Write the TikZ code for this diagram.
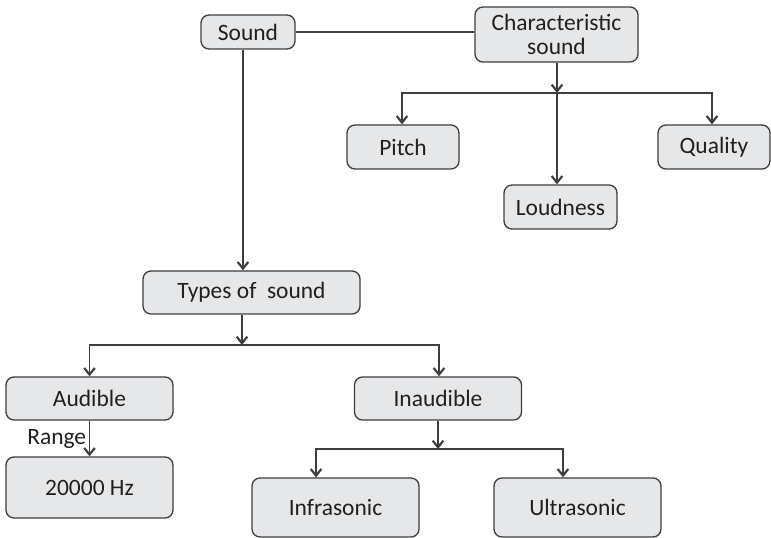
\documentclass[tikz,border=0pt]{standalone}
\usepackage{fontspec}
\setmainfont{Carlito}
\usepackage{tikz}
\usetikzlibrary{arrows.meta}
\definecolor{boxfill}{RGB}{230,231,232}
\definecolor{boxline}{RGB}{62,62,64}
\definecolor{ink}{RGB}{35,31,32}

\begin{document}
\begin{tikzpicture}[x=0.75pt, y=-0.75pt,
    font=\fontsize{17.6}{18.5}\selectfont, text=ink,
    topic/.style={draw=boxline, fill=boxfill, line width=1pt, rounded corners=6pt,
      inner sep=0pt, align=center, minimum height=33pt},
    arr/.style={draw=boxline, line width=1pt, -{Straight Barb[length=5pt,width=8pt,line width=1.6pt]}},
    link/.style={draw=boxline, line width=1pt}]
  \useasboundingbox (0,0) rectangle (771,538);

  % Top row
  \node[topic, minimum width=70.5pt, minimum height=25.5pt] (sound) at (248,32) {Sound};
  \node[topic, minimum width=122.25pt, minimum height=41.25pt] (char) at (556.5,34.5) {Characteristic\\sound};
  \draw[link] (sound.east |- 0,32) -- (char.west |- 0,32);

  % Characteristics
  \node[topic, minimum width=84pt] (pitch) at (403,147) {Pitch};
  \node[topic, minimum width=84.75pt] (loud) at (560.5,207) {Loudness};
  \node[topic, minimum width=84pt] (quality) at (714,147) {Quality};
  \coordinate (cj) at (557,93);
  \draw[arr] (cj |- char.south) -- (cj);
  \draw[arr] (cj) -| ([xshift=-0.75pt]pitch.north);
  \draw[arr] (cj) -| ([xshift=-1.5pt]quality.north);
  \draw[arr] (cj) -- (cj |- loud.north);

  % Types of sound
  \node[topic, minimum width=162.75pt, minimum height=32.25pt] (types) at (251.5,292.5) {Types of\ \ sound};
  \draw[arr] ([xshift=-3.75pt]sound.south) -- ([xshift=-3.75pt]sound.south |- types.north);

  \node[topic, minimum width=125.25pt, minimum height=32.25pt] (audible) at (89.5,398.5) {Audible};
  \node[topic, minimum width=125.25pt, minimum height=32.25pt] (inaudible) at (438,398.5) {Inaudible};
  \coordinate (tj) at (242,345);
  \draw[arr] (tj |- types.south) -- (tj);
  \draw[arr] (tj) -| (audible.north);
  \draw[arr] (tj) -| ([xshift=0.75pt]inaudible.north);

  % Range
  \node[topic, minimum width=125.25pt, minimum height=45.75pt] (hz) at (89.5,487.5) {20000 Hz};
  \draw[arr] (audible) -- (hz) node[midway, left, inner sep=2pt] (range) {Range};

  % Inaudible sound
  \node[topic, minimum width=125.25pt, minimum height=44.25pt] (infra) at (335.5,507.5) {Infrasonic};
  \node[topic, minimum width=125.25pt, minimum height=44.25pt] (ultra) at (577.5,507.5) {Ultrasonic};
  \coordinate (ij) at (438,449);
  \draw[arr] (inaudible) -- (ij);
  \draw[arr] (ij) -| ([xshift=-14.6pt]infra.north);
  \draw[arr] (ij) -| ([xshift=-10.9pt]ultra.north);
\end{tikzpicture}
\end{document}
